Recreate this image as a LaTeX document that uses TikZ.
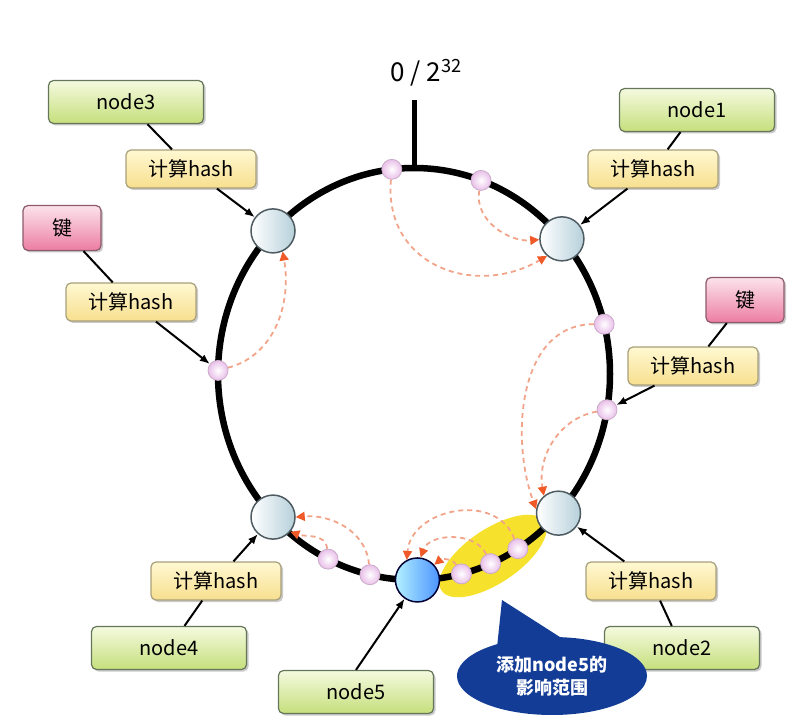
\documentclass[tikz,border=0pt]{standalone}
\usepackage{fontspec}
\setmainfont{Noto Sans CJK SC}
\usepackage{xcolor}
\usetikzlibrary{positioning, arrows.meta, shadows, calc, shapes.callouts}
\definecolor{greentop}{HTML}{F4FADF}
\definecolor{greenbot}{HTML}{C6DF7C}
\definecolor{greenedge}{HTML}{66765A}
\definecolor{hashtop}{HTML}{FFF8D2}
\definecolor{hashbot}{HTML}{F7DF8E}
\definecolor{hashedge}{HTML}{A8A07A}
\definecolor{keytop}{HTML}{FCE3EC}
\definecolor{keybot}{HTML}{EC7DA3}
\definecolor{keyedge}{HTML}{8C5A68}
\definecolor{ringblue}{HTML}{B6D0DA}
\definecolor{ringedge}{HTML}{4E5C62}
\definecolor{dotpink}{HTML}{E9BFE9}
\definecolor{moveline}{HTML}{F2A48A}
\definecolor{movetip}{HTML}{F05A28}
\definecolor{glow}{HTML}{F6E22C}
\definecolor{noteblue}{HTML}{123C96}

\tikzset{
  boxbase/.style={rounded corners=5pt, line width=1.2pt, inner sep=0pt,
    font=\fontsize{20}{24}\selectfont,
    drop shadow={shadow xshift=2pt, shadow yshift=-2pt, opacity=.35, fill=black!60}},
  nodebox/.style={boxbase, draw=greenedge, top color=greentop, bottom color=greenbot,
    minimum width=155pt, minimum height=43pt},
  hashbox/.style={boxbase, draw=hashedge, top color=hashtop, bottom color=hashbot,
    minimum width=130pt, minimum height=38pt},
  keybox/.style={boxbase, draw=keyedge, top color=keytop, bottom color=keybot,
    minimum width=78pt, minimum height=45pt},
  ringnode/.style={circle, draw=ringedge, line width=1.5pt, minimum size=44pt, inner sep=0pt,
    left color=white, right color=ringblue},
  newnode/.style={draw=black!80!blue, left color=blue!20!cyan!30, right color=blue!60!cyan!70},
  ringdot/.style={circle, draw=dotpink!70!gray, line width=.8pt, minimum size=20pt, inner sep=0pt,
    inner color=white, outer color=dotpink},
  link/.style={line width=2pt, black},
  moved/.style={draw=moveline, line width=1.8pt, dash pattern=on 5pt off 4pt,
    -{Triangle[length=9pt, width=9pt, color=movetip]}}
}

\begin{document}
\begin{tikzpicture}[x=1pt, y=1pt]
  \useasboundingbox (0,0) rectangle (801,724);
  \coordinate (c) at (414,350);

  % area taken over by node5
  \fill[glow, rotate around={34:(493,168)}] (493,168) ellipse [x radius=62, y radius=27];

  % the hash ring
  \draw[line width=6.5pt] (c) ellipse [x radius=196, y radius=206];
  \coordinate (top) at (414,556);
  \coordinate (tick) at (414,624);
  \draw[line width=5pt] (top) -- (tick);
  \node (zero) at (426,651) {\fontsize{26}{30}\selectfont 0 / 2\textsuperscript{32}};

  \foreach \a/\n in {136/n3, 41/n1, -42.5/n2, 224/n4}
    \node[ringnode] (\n) at ($(c)+(\a:196pt and 206pt)$) {};
  \node[ringnode, newnode] (n5) at ($(c)+(-89:196pt and 206pt)$) {};
  \foreach \a/\n in {96.5/p1, 70/p2, 14/p3, -10/p4, 179/p5, 244/p6, 257/p7, -76/p8, -67/p9, -58/p10}
    \node[ringdot] (\n) at ($(c)+(\a:196pt and 206pt)$) {};

  % servers and keys
  \node[nodebox] (node3) at (126,622) {node3};
  \node[hashbox] (h3) at (191,555) {计算hash};
  \node[keybox] (keyA) at (62,496) {键};
  \node[hashbox] (hA) at (131,422) {计算hash};
  \node[nodebox] (node1) at (697,614) {node1};
  \node[hashbox] (h1) at (653,555) {计算hash};
  \node[keybox] (keyB) at (745,424) {键};
  \node[hashbox] (hB) at (693,358) {计算hash};
  \node[hashbox] (h2) at (651,143) {计算hash};
  \node[nodebox] (node2) at (682,76) {node2};
  \node[hashbox] (h4) at (216,143) {计算hash};
  \node[nodebox] (node4) at (169,76) {node4};
  \node[nodebox] (node5) at (356,32) {node5};

  \draw[link] (node3) -- (h3);
  \draw[link, -{Latex[length=10pt, width=8pt]}] (h3) -- (n3);
  \draw[link] (keyA) -- (hA);
  \draw[link, -{Latex[length=10pt, width=8pt]}] (hA) -- (p5);
  \draw[link] (node1) -- (h1);
  \draw[link, -{Latex[length=10pt, width=8pt]}] (h1) -- (n1);
  \draw[link] (keyB) -- (hB);
  \draw[link, -{Latex[length=10pt, width=8pt]}] (hB) -- (p4);
  \draw[link] (node2) -- (h2);
  \draw[link, -{Latex[length=10pt, width=8pt]}] (h2) -- (n2);
  \draw[link] (node4) -- (h4);
  \draw[link, -{Latex[length=10pt, width=8pt]}] (h4) -- (n4);
  \draw[link, -{Latex[length=10pt, width=8pt]}] (node5.north) -- (n5);

  % keys move clockwise to the next server
  \draw[moved] (p1) to[out=-95, in=210, looseness=1.25] (n1.229);
  \draw[moved] (p2) to[out=-100, in=185] (n1.182);
  \draw[moved] (p3) to[out=180, in=110] (n2.170);
  \draw[moved] (p4) to[out=190, in=100] (n2.130);
  \draw[moved] (p5) to[out=15, in=-80] (n3.-65);
  \draw[moved] (p6) to[out=95, in=-20] (n4.-40);
  \draw[moved] (p7) to[out=95, in=5] (n4.0);
  \draw[moved] (p10) to[out=110, in=85, looseness=1.2] (n5.118);
  \draw[moved] (p9) to[out=115, in=70] (n5.82);
  \draw[moved] (p8) to[out=120, in=40] (n5.42);

  \node[ellipse callout, callout absolute pointer={(502,124)}, callout pointer arc=40,
        fill=noteblue, text=white, minimum width=190pt, minimum height=78pt, inner sep=0pt,
        align=center, font=\bfseries\fontsize{18}{23}\selectfont] (note) at (552,48)
        {添加node5的\\影响范围};
\end{tikzpicture}
\end{document}
